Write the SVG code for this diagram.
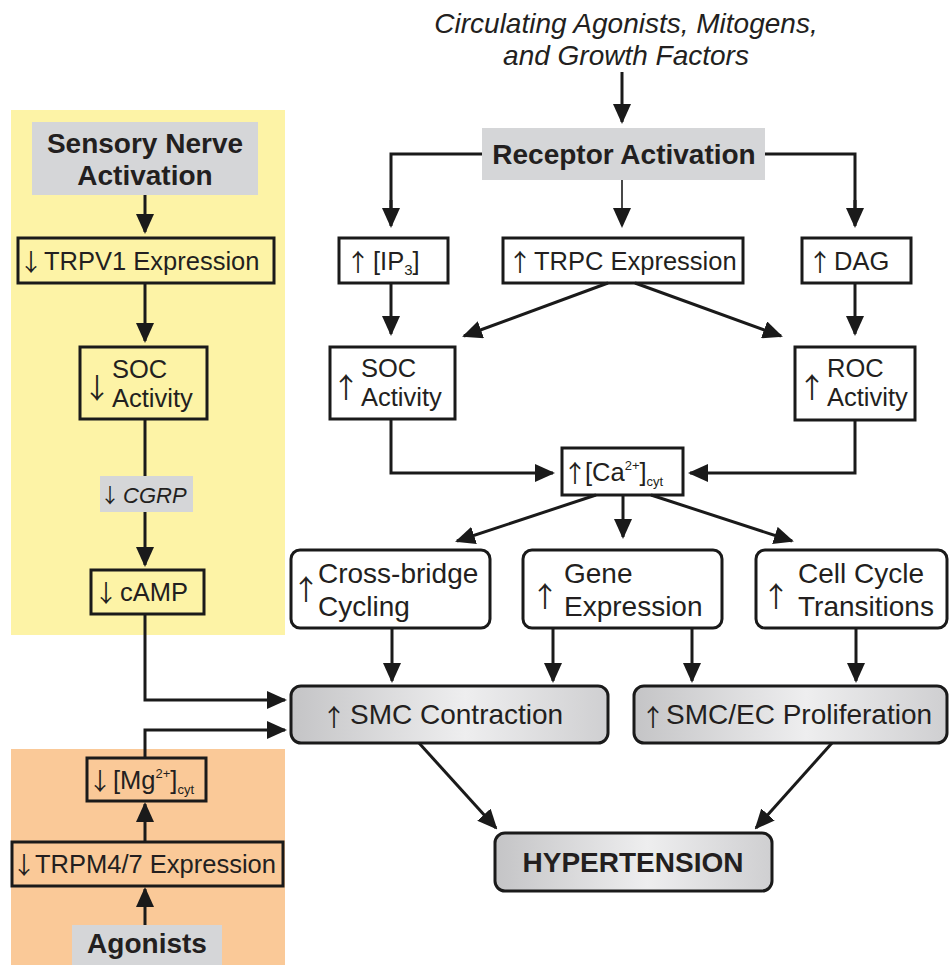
<svg xmlns="http://www.w3.org/2000/svg" width="949" height="965" viewBox="0 0 949 965">
<defs>
<style>
.t{font-family:"Liberation Sans",Arial,Helvetica,sans-serif;font-size:25.5px;fill:#231f20}
.l{font-size:28px}
.b{font-weight:bold;font-size:28px}
.i{font-style:italic}
.ar{font-family:"Noto Sans CJK JP","Noto Sans CJK SC","DejaVu Sans",sans-serif;font-size:24px;fill:#231f20;text-anchor:middle}
.ar2{font-size:28px}
.box{fill:none;stroke:#1a1a1a;stroke-width:3}
.wbox{fill:#ffffff;stroke:#1a1a1a;stroke-width:3}
.gbox{fill:url(#gg);stroke:#1a1a1a;stroke-width:3}
.gray{fill:#d5d6d8}
.ln{fill:none;stroke:#1a1a1a;stroke-width:3;marker-end:url(#ah)}
.pl{fill:none;stroke:#1a1a1a;stroke-width:3}
</style>
<marker id="ah" markerUnits="userSpaceOnUse" markerWidth="20" markerHeight="18" refX="18" refY="9" orient="auto">
<path d="M0,0 L20,9 L0,18 z" fill="#1a1a1a"/>
</marker>
<linearGradient id="gg" x1="0" y1="0" x2="1" y2="0">
<stop offset="0" stop-color="#c4c4c6"/>
<stop offset="0.55" stop-color="#eeeeef"/>
<stop offset="1" stop-color="#cfcfd1"/>
</linearGradient>
</defs>
<rect x="0" y="0" width="949" height="965" fill="#ffffff"/>
<rect id="panel-yellow" x="11" y="110" width="274" height="525" fill="#fdf3a6"/>
<rect id="panel-orange" x="11" y="749" width="274" height="216" fill="#fac998"/>

<g id="connectors">
<path class="ln" d="M622,72 V122"/>
<path class="pl" d="M482,154 H391 V208"/><path class="ln" d="M391,200 V226"/>
<path class="pl" d="M765,154 H855 V208"/><path class="ln" d="M855,200 V226"/>
<path class="ln" d="M622,180 V226" style="stroke-width:1.6"/>
<path class="ln" d="M391,283 V334"/>
<path class="ln" d="M608,283 L464,336"/>
<path class="ln" d="M635,283 L781,336"/>
<path class="ln" d="M855,283 V334"/>
<path class="ln" d="M391,419 V473 H553"/>
<path class="ln" d="M855,420 V473 H690"/>
<path class="ln" d="M596,495 L457,541"/>
<path class="ln" d="M623,495 V537"/>
<path class="ln" d="M651,495 L792,541"/>
<path class="ln" d="M392,628 V681"/>
<path class="ln" d="M553,628 V681"/>
<path class="ln" d="M692,628 V681"/>
<path class="ln" d="M856,628 V681"/>
<path class="ln" d="M419,743 L496,828"/>
<path class="ln" d="M832,743 L756,828"/>
<path class="ln" d="M145,195 V232"/>
<path class="ln" d="M145,283 V341"/>
<path class="pl" d="M145,419 V476"/>
<path class="ln" d="M145,512 V565"/>
<path class="ln" d="M145,614 V700 H285"/>
<path class="ln" d="M145,758 V730 H285"/>
<path class="ln" d="M145,842 V804"/>
<path class="ln" d="M145,925 V889"/>
</g>

<g id="circulating">
<text class="t l i" x="626" y="33" text-anchor="middle">Circulating Agonists, Mitogens,</text>
<text class="t l i" x="626" y="65" text-anchor="middle">and Growth Factors</text>
</g>

<g id="receptor">
<rect class="gray" x="482" y="128" width="283" height="52"/>
<text class="t b" x="624" y="164" text-anchor="middle">Receptor Activation</text>
</g>

<g id="ip3">
<rect class="box" x="339" y="238" width="109" height="45"/>
<text class="ar" x="358" y="271">↑</text>
<text class="t" x="373" y="270">[IP<tspan font-size="15" dy="5">3</tspan><tspan dy="-5">]</tspan></text>
</g>

<g id="trpc">
<rect class="box" x="503" y="238" width="240" height="45"/>
<text class="ar" x="520" y="271">↑</text>
<text class="t" x="534" y="270">TRPC Expression</text>
</g>

<g id="dag">
<rect class="box" x="802" y="238" width="109" height="45"/>
<text class="ar" x="820" y="271">↑</text>
<text class="t" x="834" y="270">DAG</text>
</g>

<g id="soc-up">
<rect class="box" x="330" y="347" width="125" height="72"/>
<text class="ar ar2" x="346" y="398">↑</text>
<text class="t" x="361" y="377">SOC</text>
<text class="t" x="361" y="406">Activity</text>
</g>

<g id="roc">
<rect class="box" x="795" y="347" width="120" height="73"/>
<text class="ar ar2" x="812" y="398">↑</text>
<text class="t" x="827" y="377">ROC</text>
<text class="t" x="827" y="406">Activity</text>
</g>

<g id="ca">
<rect class="box" x="562" y="448" width="121" height="47"/>
<text class="ar" x="575" y="482">↑</text>
<text class="t" x="585" y="481">[Ca<tspan font-size="13" dy="-11">2+</tspan><tspan dy="11">]</tspan><tspan font-size="13" dy="5">cyt</tspan></text>
</g>

<g id="crossbridge">
<rect class="wbox" x="291" y="550" width="199" height="78" rx="9"/>
<text class="ar ar2" x="306" y="600">↑</text>
<text class="t l" x="318" y="583">Cross-bridge</text>
<text class="t l" x="318" y="616">Cycling</text>
</g>

<g id="gene">
<rect class="wbox" x="523" y="550" width="199" height="78" rx="9"/>
<text class="ar ar2" x="545" y="607">↑</text>
<text class="t l" x="564" y="583">Gene</text>
<text class="t l" x="564" y="616">Expression</text>
</g>

<g id="cellcycle">
<rect class="wbox" x="756" y="550" width="191" height="78" rx="9"/>
<text class="ar ar2" x="776" y="607">↑</text>
<text class="t l" x="798" y="583">Cell Cycle</text>
<text class="t l" x="798" y="616">Transitions</text>
</g>

<g id="smc-contraction">
<rect class="gbox" x="291" y="686" width="317" height="57" rx="10"/>
<text class="ar" x="334" y="726">↑</text>
<text class="t l" x="350" y="724">SMC Contraction</text>
</g>

<g id="proliferation">
<rect class="gbox" x="634" y="686" width="313" height="57" rx="10"/>
<text class="ar" x="653" y="726">↑</text>
<text class="t l" x="666" y="724">SMC/EC Proliferation</text>
</g>

<g id="hypertension">
<rect class="gbox" x="495" y="833" width="277" height="58" rx="10"/>
<text class="t b" x="633" y="872" text-anchor="middle">HYPERTENSION</text>
</g>

<g id="sensory">
<rect class="gray" x="32" y="122" width="226" height="73"/>
<text class="t b" x="145" y="153" text-anchor="middle">Sensory Nerve</text>
<text class="t b" x="145" y="185" text-anchor="middle">Activation</text>
</g>

<g id="trpv1">
<rect class="box" x="18" y="238" width="256" height="45"/>
<text class="ar" x="31" y="271">↓</text>
<text class="t" x="44" y="270">TRPV1 Expression</text>
</g>

<g id="soc-down">
<rect class="box" x="80" y="347" width="127" height="72"/>
<text class="ar ar2" x="97" y="399">↓</text>
<text class="t" x="112" y="378">SOC</text>
<text class="t" x="112" y="407">Activity</text>
</g>

<g id="cgrp">
<rect class="gray" x="100" y="476" width="93" height="36"/>
<text class="ar" x="110" y="503" style="font-size:20px">↓</text>
<text class="t i" x="123" y="503" style="font-size:22px">CGRP</text>
</g>

<g id="camp">
<rect class="box" x="91" y="570" width="113" height="44"/>
<text class="ar" x="106" y="602">↓</text>
<text class="t" x="120" y="601">cAMP</text>
</g>

<g id="mg">
<rect class="box" x="87" y="758" width="119" height="43"/>
<text class="ar" x="100" y="790">↓</text>
<text class="t" x="113" y="789">[Mg<tspan font-size="13" dy="-11">2+</tspan><tspan dy="11">]</tspan><tspan font-size="13" dy="5">cyt</tspan></text>
</g>

<g id="trpm">
<rect class="box" x="12" y="842" width="271" height="44"/>
<text class="ar" x="24" y="874">↓</text>
<text class="t" x="35" y="873">TRPM4/7 Expression</text>
</g>

<g id="agonists">
<rect class="gray" x="72" y="925" width="150" height="40"/>
<text class="t b" x="147" y="953" text-anchor="middle">Agonists</text>
</g>
</svg>
